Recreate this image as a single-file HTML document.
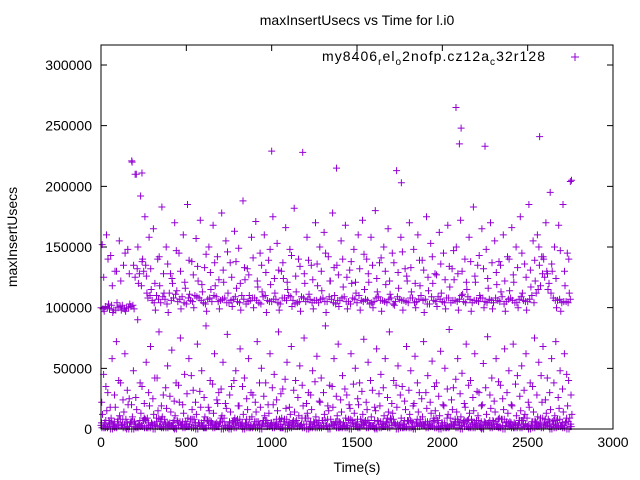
<!DOCTYPE html>
<html><head><meta charset="utf-8"><style>
body{margin:0;background:#fff}
svg{display:block;font-family:"Liberation Sans",sans-serif}
</style></head><body>
<svg id="chart" width="640" height="480" viewBox="0 0 640 480">
<rect x="0" y="0" width="640" height="480" fill="#fff"/>
<text x="357" y="25" font-size="14" text-anchor="middle">maxInsertUsecs vs Time for l.i0</text>
<text x="357" y="472" font-size="14" text-anchor="middle">Time(s)</text>
<text x="17" y="237" font-size="14" text-anchor="middle" transform="rotate(-90 17 237)">maxInsertUsecs</text>
<g id="axes"></g>
<g id="marks"></g>
<g>
<text x="322" y="61" font-size="14" textLength="223" lengthAdjust="spacing">my8406<tspan font-size="10" dy="4">r</tspan><tspan dy="-4">el</tspan><tspan font-size="10" dy="4">o</tspan><tspan dy="-4">2nofp.cz12a</tspan><tspan font-size="10" dy="4">c</tspan><tspan dy="-4">32r128</tspan></text>
<path d="M571 57h8M575 53v8" stroke="#9400d3" stroke-width="1"/>
</g>
<rect x="101" y="45" width="512" height="384" fill="none" stroke="#000"/>
</svg>
<script>
const xTicks=[0,500,1000,1500,2000,2500,3000];
const yTicks=[0,50000,100000,150000,200000,250000,300000];
const step=25;
const band1=[100,101,99,98,100,102,100,101,125,128,130,108,106,110,104,107,112,108,105,109,103,106,110,108,104,107,105,109,106,108,104,107,105,110,103,106,108,104,109,106,105,107,103,108,110,106,104,109,105,107,106,104,108,105,107,103,106,109,105,108,104,106,107,103,105,109,106,104,108,105,107,106,104,108,105,110,107,103,106,109,105,108,104,106,107,105,109,104,106,108,105,107,104,106,109,105,108,104,107,106,105,110,112,118,125,120,108,106,104,105,107];
const band2=[99,100,102,98,101,99,100,102,132,118,135,110,104,107,109,103,106,111,107,104,108,105,109,106,103,108,110,105,107,104,106,109,104,107,105,108,106,103,110,105,107,104,108,106,109,103,105,108,107,104,106,107,105,109,104,106,108,105,103,107,110,105,106,104,108,106,105,107,103,109,106,105,108,104,107,106,103,109,105,107,104,108,106,105,110,104,107,106,105,108,104,106,108,105,103,107,106,104,109,105,107,104,115,128,130,112,106,107,105,104,106];
const band3=[97,103,96,104,98,97,103,99,120,140,112,115,98,118,112,96,120,114,99,116,111,100,122,113,97,115,118,99,121,112,101,116,98,123,110,100,117,113,96,119,112,98,124,115,101,113,97,120,111,99,118,114,96,122,110,101,117,99,120,112,98,115,121,100,113,97,119,111,102,116,98,122,113,100,118,96,114,120,101,112,99,117,123,98,111,115,97,121,110,100,116,99,119,113,97,114,121,100,112,98,117,122,135,140,115,130,100,97,118,112,99];
const upper=[152,160,143,130,155,135,148,220,210,192,175,158,165,140,183,150,128,170,145,160,185,138,157,172,133,150,168,142,178,155,137,163,149,188,132,158,171,145,160,139,175,153,130,166,148,182,140,228,158,135,170,150,162,142,178,135,155,168,131,148,160,172,140,158,180,137,150,165,145,213,158,132,170,148,160,139,175,153,128,162,145,168,132,150,172,140,158,183,135,165,148,170,155,138,160,142,166,150,175,136,185,155,160,142,170,195,150,168,185,145,205];
const upper2=[125,140,118,130,122,145,128,135,150,138,126,132,120,142,128,136,124,147,130,121,139,127,134,119,144,129,137,123,131,146,125,138,120,133,127,141,122,135,129,148,124,131,137,121,143,126,134,128,139,123,136,130,145,122,133,127,140,125,138,121,132,144,128,135,124,141,130,122,137,129,146,126,133,120,139,131,125,142,127,136,123,134,147,128,130,121,138,126,143,132,124,137,129,135,122,140,127,133,145,125,131,139,150,142,128,136,124,147,130,140,132];
const mid1=[45,30,58,72,38,62,25,48,90,35,55,68,42,80,28,52,65,38,75,45,58,32,70,48,85,40,62,30,55,78,35,48,66,42,58,28,72,50,38,62,45,80,33,55,68,40,52,75,30,48,60,42,85,36,58,70,44,28,62,50,38,74,55,32,66,45,58,80,40,52,35,68,48,60,30,72,44,56,38,64,50,82,34,58,46,70,40,62,30,54,76,42,58,36,66,48,70,44,52,62,38,75,55,68,42,58,72,48,62,40,75];
const mid2=[22,35,18,28,40,24,32,20,26,38,21,30,25,42,19,34,27,23,36,20,29,44,22,31,26,18,37,24,33,21,28,40,19,35,25,30,22,38,27,20,34,24,29,41,18,32,26,36,21,28,39,23,30,19,35,27,24,33,20,37,25,31,22,40,18,29,34,26,21,36,28,23,32,19,38,25,30,22,35,27,20,33,24,41,29,21,36,26,31,19,34,28,23,39,25,30,20,37,27,32,22,35,28,44,24,30,38,26,33,45,28];
const low1=[3,1,5,2,8,4,0,6,2,3,7,1,4,9,2,5,3,1,6,4,2,8,3,5,1,7,4,2,6,3,0,5,8,2,4,1,6,3,7,2,5,4,1,8,3,6,2,4,9,1,5,3,7,2,4,6,1,3,8,5,2,4,7,3,1,6,2,5,8,4,3,1,7,2,5,4,6,3,9,2,5,1,4,8,3,6,2,5,7,1,4,3,6,2,8,5,3,1,7,4,2,6,3,9,5,2,4,8,3,6,2];
const low2=[12,15,9,18,11,14,20,10,16,13,8,19,12,15,10,17,14,11,22,13,9,16,12,18,10,15,13,21,11,17,14,9,19,12,16,10,14,18,11,13,20,15,9,17,12,14,11,19,13,16,10,22,12,15,18,11,14,9,17,13,20,12,16,10,15,19,11,14,13,18,9,16,12,21,14,10,17,13,15,11,19,12,16,14,10,18,13,15,11,20,12,17,14,9,16,13,19,11,15,12,18,14,10,22,13,16,11,17,14,19,12];
const low3=[1,2,0,1,3,1,2,0,1,2,1,3,0,2,1,1,2,0,3,1,2,1,0,2,1,3,1,2,0,1,2,1,3,0,1,2,1,0,2,3,1,2,1,0,1,2,3,1,0,2,1,1,2,0,3,1,2,1,0,2,1,3,1,2,0,1,2,1,3,0,1,2,1,0,2,3,1,2,1,0,1,2,3,1,0,2,1,1,2,0,3,1,2,1,0,2,1,3,1,2,0,1,2,1,3,0,1,2,1,0,2];
const low4=[5,7,4,6,3,8,5,6,4,7,9,5,3,6,8,4,5,7,3,6,4,8,5,3,7,6,4,5,9,3,6,7,4,5,8,3,6,4,7,5,3,8,6,4,5,7,3,9,4,6,5,7,3,8,4,6,5,3,7,4,8,6,5,3,7,4,6,9,5,3,4,7,6,5,8,3,4,6,7,5,3,9,4,6,5,7,8,4,3,6,5,7,4,8,3,6,5,4,7,9,3,6,5,4,8,6,7,3,5,9,4];
const outT=[180,200,240,1000,1380,1760,2080,2100,2110,2250,2570,2750];
const outV=[221,210,211,229,215,203,265,235,248,233,241,204];

const X=v=>101+v/3000*512;
const Y=v=>429-v/300000*364;
const NS="http://www.w3.org/2000/svg";
const axes=document.getElementById('axes');
const marks=document.getElementById('marks');
function mk(tag,attrs,parent){const e=document.createElementNS(NS,tag);for(const k in attrs)e.setAttribute(k,attrs[k]);parent.appendChild(e);return e;}
xTicks.forEach(t=>{
  const x=X(t);
  const tk=mk('path',{d:`M${x} 429v-6M${x} 45v6`,stroke:'#000'},axes);
  
  
  const l=mk('text',{x:x,y:447,'font-size':14,'text-anchor':'middle'},axes);
  l.textContent=t;
  
  
});
yTicks.forEach(t=>{
  const y=Y(t);
  const tk=mk('path',{d:`M101 ${y}h6M613 ${y}h-6`,stroke:'#000'},axes);
  
  
  const l=mk('text',{x:92,y:y+5,'font-size':14,'text-anchor':'end'},axes);
  l.textContent=t;
  
  
});
let d='';
function add(arr,phase){arr.forEach((v,i)=>{const t=i*step+phase;if(t>2760)return;const x=X(t),y=Y(v*1000);d+=`M${(x-3.5).toFixed(1)} ${y.toFixed(1)}h7M${x.toFixed(1)} ${(y-3.5).toFixed(1)}v7`;});}
add(band1,0);add(band2,12);add(band3,19);add(upper,7);add(upper2,16);add(mid1,15);add(mid2,4);
add(low1,0);add(low2,9);add(low3,17);add(low4,21);add(low3,5);add(low1,13);add(low4,3);
outT.forEach((t,i)=>{const x=X(t),y=Y(outV[i]*1000);d+=`M${x-3.5} ${y}h7M${x} ${y-3.5}v7`;});
const p=mk('path',{d:d,stroke:'#9400d3','stroke-width':1,fill:'none'},marks);


</script>
</body></html>
